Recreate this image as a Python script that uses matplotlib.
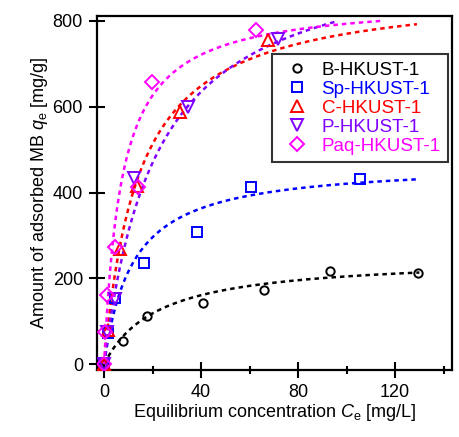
import numpy as np
import matplotlib
matplotlib.use("Agg")
import matplotlib.pyplot as plt

plt.rcParams['font.family'] = ['Liberation Sans', 'DejaVu Sans']
plt.rcParams['mathtext.fontset'] = 'custom'
plt.rcParams['mathtext.rm'] = 'Liberation Sans'
plt.rcParams['mathtext.it'] = 'Liberation Sans:italic'

# measured points (Ce [mg/L], qe [mg/g])
names = ["B-HKUST-1", "Sp-HKUST-1", "C-HKUST-1", "P-HKUST-1", "Paq-HKUST-1"]
colors = ["#000000", "#0000ff", "#ff0000", "#7f00ff", "#ff00ff"]
markers = ["o", "s", "^", "v", "D"]
msizes = [6, 7.5, 8.5, 8.5, 7.5]

b_x = [0, 7.8, 17.7, 40.8, 66, 93, 129.5]
b_y = [0, 54, 113, 142, 173, 217, 213]
sp_x = [0, 1.5, 4.5, 16.5, 38.4, 60.6, 105.6]
sp_y = [0, 72, 153, 236, 307, 413, 431]
c_x = [0, 1.5, 6.6, 13.5, 31.3, 67.6]
c_y = [0, 80, 268, 415, 587, 755]
p_x = [0, 1.2, 4.5, 12.4, 34.6, 71.8]
p_y = [0, 75, 151, 433, 599, 757]
paq_x = [0, 0.4, 1.2, 4.5, 14, 19.8, 62.7]
paq_y = [0, 75, 161, 273, 413, 657, 778]

# Langmuir fit parameters (qm, K) and end of each fit curve
qm = [250, 470, 880, 980, 850]
kl = [0.045, 0.085, 0.07, 0.046, 0.14]
fit_end = [130, 130, 129, 95, 114.6]

xs = [b_x, sp_x, c_x, p_x, paq_x]
ys = [b_y, sp_y, c_y, p_y, paq_y]

fig = plt.figure(figsize=(4.59, 4.37), dpi=100)
ax = fig.add_axes([0.211, 0.153, 0.774, 0.81])

handles = []
for i in range(5):
    cc = np.linspace(0, fit_end[i], 300)
    ax.plot(cc, qm[i] * kl[i] * cc / (1 + kl[i] * cc), color=colors[i],
            lw=1.8, linestyle=(0, (1.8, 1.6)), zorder=2)
for i in range(5):
    h, = ax.plot(xs[i], ys[i], linestyle='none', marker=markers[i],
                 markersize=msizes[i], markerfacecolor='none',
                 markeredgecolor=colors[i], markeredgewidth=1.4,
                 label=names[i], zorder=3)
    handles.append(h)

ax.set_xlim(-3, 143.5)
ax.set_ylim(-14, 811)
ax.set_xticks([0, 40, 80, 120])
ax.set_xticks([20, 60, 100, 140], minor=True)
ax.set_yticks([0, 200, 400, 600, 800])
ax.tick_params(which='major', direction='inout', length=12, width=1.5,
               labelsize=13, pad=4)
ax.tick_params(which='minor', direction='inout', length=6, width=1.5)
for s in ax.spines.values():
    s.set_linewidth(1.6)

ax.set_xlabel("Equilibrium concentration $C_\\mathrm{e}$ [mg/L]", fontsize=13,
              labelpad=1)
ax.set_ylabel("Amount of adsorbed MB $q_\\mathrm{e}$ [mg/g]", fontsize=13,
              labelpad=2)

leg = ax.legend(handles=handles, loc='upper right', bbox_to_anchor=(0.989, 0.893),
                fontsize=13.5, frameon=True, fancybox=False, edgecolor='black',
                handlelength=1.87, handletextpad=0.4, labelspacing=0.1,
                borderpad=0.4, borderaxespad=0)
leg.get_frame().set_linewidth(1.5)
for t, c in zip(leg.get_texts(), colors):
    t.set_color(c)

fig.savefig("out.png", dpi=100)
